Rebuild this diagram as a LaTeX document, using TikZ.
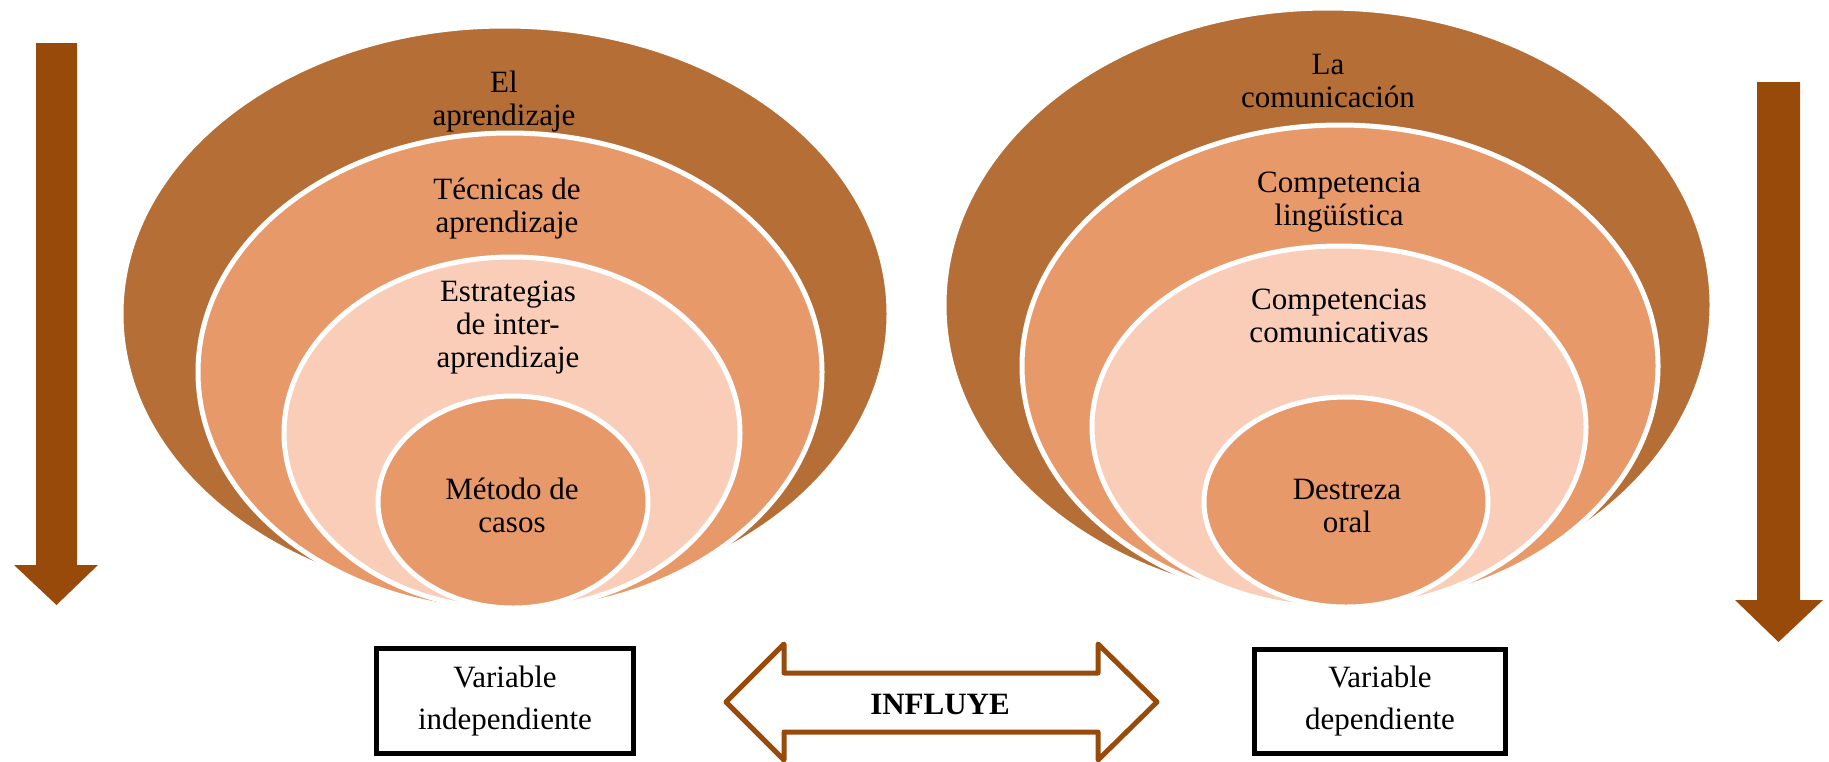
\documentclass[tikz,border=0pt]{standalone}
\usepackage{fontspec}
\setmainfont{Liberation Serif}
\usetikzlibrary{shapes.geometric}
\definecolor{darkring}{HTML}{B56E35}
\definecolor{midring}{HTML}{E8996A}
\definecolor{lightring}{HTML}{F9CDB7}
\definecolor{arrowbrown}{HTML}{984A0A}
\tikzset{
  ring/.style={ellipse, draw=white, line width=5pt, inner sep=0pt, outer sep=0pt},
  ringtext/.style={inner sep=0pt, align=center, text=black, font=\fontsize{31}{33}\selectfont},
  varbox/.style={draw=black, line width=5pt, fill=white, inner sep=0pt, align=center, font=\fontsize{31}{42}\selectfont},
  downarrow/.style={fill=arrowbrown},
  twoway/.style={draw=arrowbrown, line width=5pt, fill=white, line join=round}
}
\begin{document}
\begin{tikzpicture}[x=1pt,y=-1pt]
\useasboundingbox (0,0) rectangle (1829,761);

% vertical arrows
\fill[downarrow] (36,43) -- (77,43) -- (77,565) -- (98,565) -- (56.5,605) -- (14,565) -- (36,565) -- cycle;
\fill[downarrow] (1757,82) -- (1800,82) -- (1800,600) -- (1823,600) -- (1778.5,642) -- (1735,600) -- (1757,600) -- cycle;

% left nested ellipses
\node[ring, fill=darkring, minimum width=768pt, minimum height=576pt] (L1) at (505,314) {};
\node[ring, fill=midring, minimum width=624pt, minimum height=478pt] (L2) at (510,372) {};
\node[ring, fill=lightring, minimum width=456pt, minimum height=352pt] (L3) at (512,433) {};
\node[ring, fill=midring, minimum width=270pt, minimum height=212pt] (L4) at (513,502) {};

\node[ringtext] (tL1) at (504,102) {El\\aprendizaje};
\node[ringtext] (tL2) at (507,209) {Técnicas de\\aprendizaje};
\node[ringtext] (tL3) at (508,328) {Estrategias\\de inter-\\aprendizaje};
\node[ringtext] (tL4) at (512,505) {Método de\\casos};

% right nested ellipses
\node[ring, fill=darkring, minimum width=768pt, minimum height=594pt] (R1) at (1328,305) {};
\node[ring, fill=midring, minimum width=636pt, minimum height=482pt] (R2) at (1340,366) {};
\node[ring, fill=lightring, minimum width=494pt, minimum height=362pt] (R3) at (1339,427) {};
\node[ring, fill=midring, minimum width=284pt, minimum height=210pt] (R4) at (1346,502) {};

\node[ringtext] (tR1) at (1328,81) {La\\comunicación};
\node[ringtext] (tR2) at (1339,202) {Competencia\\lingüística};
\node[ringtext] (tR3) at (1339,316) {Competencias\\comunicativas};
\node[ringtext] (tR4) at (1347,506) {Destreza\\oral};

% variable boxes
\node[varbox, minimum width=257pt, minimum height=105pt] (vi) at (505,701) {Variable\\independiente};
\node[varbox, minimum width=251pt, minimum height=104pt] (vd) at (1380,701.5) {Variable\\dependiente};

% double arrow
\draw[twoway] (726,702) -- (784,644) -- (784,673) -- (1098,673) -- (1098,644) -- (1157,702) -- (1098,760) -- (1098,732) -- (784,732) -- (784,760) -- cycle;
\node[inner sep=0pt, font=\fontsize{31}{33}\selectfont\bfseries] (infl) at (940,704) {INFLUYE};
\end{tikzpicture}
\end{document}
